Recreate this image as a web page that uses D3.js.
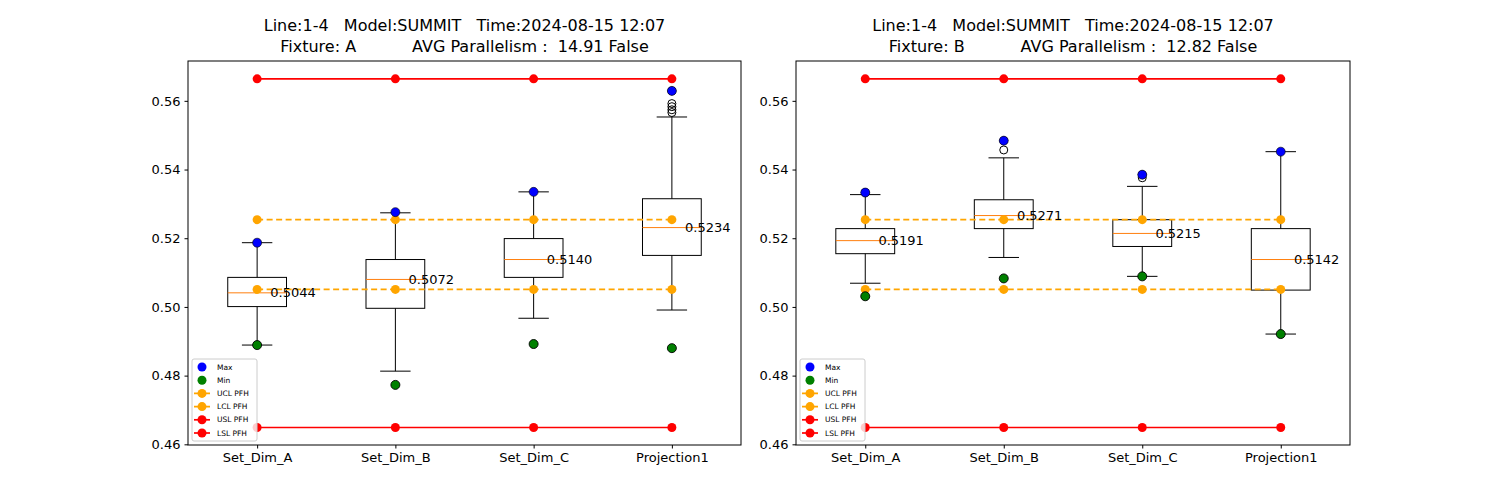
<!DOCTYPE html><html><head><meta charset="utf-8">
<script src="https://cdn.jsdelivr.net/npm/d3@7/dist/d3.min.js"></script>
<style>body{margin:0;background:#fff}text{font-family:"DejaVu Sans",sans-serif;white-space:pre}</style></head><body>
<svg id="c" width="1500" height="500"></svg>
<script>
const categories=["Set_Dim_A","Set_Dim_B","Set_Dim_C","Projection1"];
const yTicks=[0.46,0.48,0.50,0.52,0.54,0.56];
const titlesA=["Line:1-4   Model:SUMMIT   Time:2024-08-15 12:07","Fixture: A           AVG Parallelism :  14.91 False"];
const titlesB=["Line:1-4   Model:SUMMIT   Time:2024-08-15 12:07","Fixture: B           AVG Parallelism :  12.82 False"];
const USL=0.5664, LSL=0.4649, UCL=0.5254, LCL=0.5051;
// [lowWhisker,Q1,median,Q3,highWhisker]
const boxesA=[[0.4889,0.5001,0.5041,0.5086,0.5187],[0.4813,0.4996,0.5080,0.5138,0.5274],[0.4967,0.5086,0.5138,0.5199,0.5335],[0.4991,0.5150,0.5231,0.5315,0.5553]];
const maxA=[0.5187,0.5276,0.5335,0.5629], minA=[0.4889,0.4773,0.4892,0.4880];
const outA=[[],[],[],[0.5592,0.5583,0.5574,0.5566,0.5629]];
const labelsA=["0.5044","0.5072","0.5140","0.5234"];
const boxesB=[[0.5069,0.5155,0.5193,0.5228,0.5327],[0.5144,0.5228,0.5266,0.5312,0.5434],[0.5089,0.5176,0.5214,0.5254,0.5351],[0.4921,0.5049,0.5138,0.5228,0.5452]];
const maxB=[0.5333,0.5484,0.5385,0.5452], minB=[0.5031,0.5083,0.5089,0.4921];
const outB=[[0.5333],[0.5457,0.5484],[0.5376,0.5385],[]];
const labelsB=["0.5191","0.5271","0.5215","0.5142"];
const labelVals=[[0.5041,0.5080,0.5138,0.5231],[0.5193,0.5266,0.5214,0.5138]];
const legendItems=[["Max","blue","pt"],["Min","green","pt"],["UCL PFH","orange","dash"],["LCL PFH","orange","dash"],["USL PFH","red","line"],["LSL PFH","red","line"]];

const svg=d3.select("#c");
function panel(x0,x1,titles,boxes,mx,mn,outs,labels,lv){
  const top=61,bot=445;
  const x=d3.scaleLinear().domain([0.5,4.5]).range([x0,x1]);
  const y=d3.scaleLinear().domain([0.4598,0.5716]).range([bot,top]);
  const g=svg.append("g");
  g.append("g").attr("transform",`translate(0,${bot})`).call(d3.axisBottom(x).tickValues([1,2,3,4]).tickFormat((d,i)=>categories[i]).tickSize(3.5).tickPadding(4))
   .call(a=>{a.select(".domain").remove();a.selectAll("text").attr("font-size",13).attr("fill","#000");});
  g.append("g").attr("transform",`translate(${x0},0)`).call(d3.axisLeft(y).tickValues(yTicks).tickFormat(d3.format(".2f")).tickSize(3.5).tickPadding(4))
   .call(a=>{a.select(".domain").remove();a.selectAll("text").attr("font-size",13).attr("fill","#000");});
  titles.forEach((t,i)=>g.append("text").attr("x",(x0+x1)/2).attr("y",31+i*21).attr("text-anchor","middle").attr("font-size",16).attr("xml:space","preserve").text(t));
  const bw=0.425, cw=0.22;
  boxes.forEach((b,i)=>{
    const c=i+1;
    g.append("line").attr("x1",x(c)).attr("x2",x(c)).attr("y1",y(b[0])).attr("y2",y(b[1])).attr("stroke","#000");
    g.append("line").attr("x1",x(c)).attr("x2",x(c)).attr("y1",y(b[3])).attr("y2",y(b[4])).attr("stroke","#000");
    [b[0],b[4]].forEach(v=>g.append("line").attr("x1",x(c-cw/2)).attr("x2",x(c+cw/2)).attr("y1",y(v)).attr("y2",y(v)).attr("stroke","#000"));
    g.append("rect").attr("x",x(c-bw/2)).attr("width",x(c+bw/2)-x(c-bw/2)).attr("y",y(b[3])).attr("height",y(b[1])-y(b[3])).attr("fill","none").attr("stroke","#000");
    g.append("line").attr("x1",x(c-bw/2)).attr("x2",x(c+bw/2)).attr("y1",y(b[2])).attr("y2",y(b[2])).attr("stroke","#ff7f0e");
    outs[i].forEach(v=>g.append("circle").attr("cx",x(c)).attr("cy",y(v)).attr("r",4).attr("fill","none").attr("stroke","#000"));
  });
  const cs=[1,2,3,4];
  [[UCL,"orange",true],[LCL,"orange",true],[USL,"red",false],[LSL,"red",false]].forEach(([v,col,dash])=>{
    g.append("path").attr("d",d3.line()(cs.map(c=>[x(c),y(v)]))).attr("stroke",col).attr("stroke-width",1.7).attr("fill","none").attr("stroke-dasharray",dash?"6,3.5":null);
    cs.forEach(c=>g.append("circle").attr("cx",x(c)).attr("cy",y(v)).attr("r",4.5).attr("fill",col));
  });
  mx.forEach((v,i)=>g.append("circle").attr("cx",x(i+1)).attr("cy",y(v)).attr("r",4.5).attr("fill","blue").attr("stroke","#000").attr("stroke-width",0.6));
  mn.forEach((v,i)=>g.append("circle").attr("cx",x(i+1)).attr("cy",y(v)).attr("r",4.5).attr("fill","green").attr("stroke","#000").attr("stroke-width",0.9));
  labels.forEach((t,i)=>g.append("text").attr("x",x(i+1.095)).attr("y",y(lv[i])).attr("dy","0.35em").attr("font-size",13).text(t));
  g.append("rect").attr("x",x0).attr("y",top).attr("width",x1-x0).attr("height",bot-top).attr("fill","none").attr("stroke","#000");
  const lg=g.append("g").attr("transform",`translate(${x0+4},359)`);
  lg.append("rect").attr("width",65).attr("height",82).attr("fill","#fff").attr("fill-opacity",0.8).attr("stroke","#ccc").attr("rx",2);
  legendItems.forEach(([t,col,kind],i)=>{
    const yy=8+i*13.2;
    if(kind!=="pt") lg.append("line").attr("x1",2).attr("x2",18).attr("y1",yy).attr("y2",yy).attr("stroke",col).attr("stroke-width",1.7).attr("stroke-dasharray",kind==="dash"?"4,2":null);
    lg.append("circle").attr("cx",10).attr("cy",yy).attr("r",4.5).attr("fill",col);
    lg.append("text").attr("x",25).attr("y",yy).attr("dy","0.35em").attr("font-size",7.5).text(t);
  });
}
panel(188,741,titlesA,boxesA,maxA,minA,outA,labelsA,labelVals[0]);
panel(796,1350,titlesB,boxesB,maxB,minB,outB,labelsB,labelVals[1]);
</script></body></html>
